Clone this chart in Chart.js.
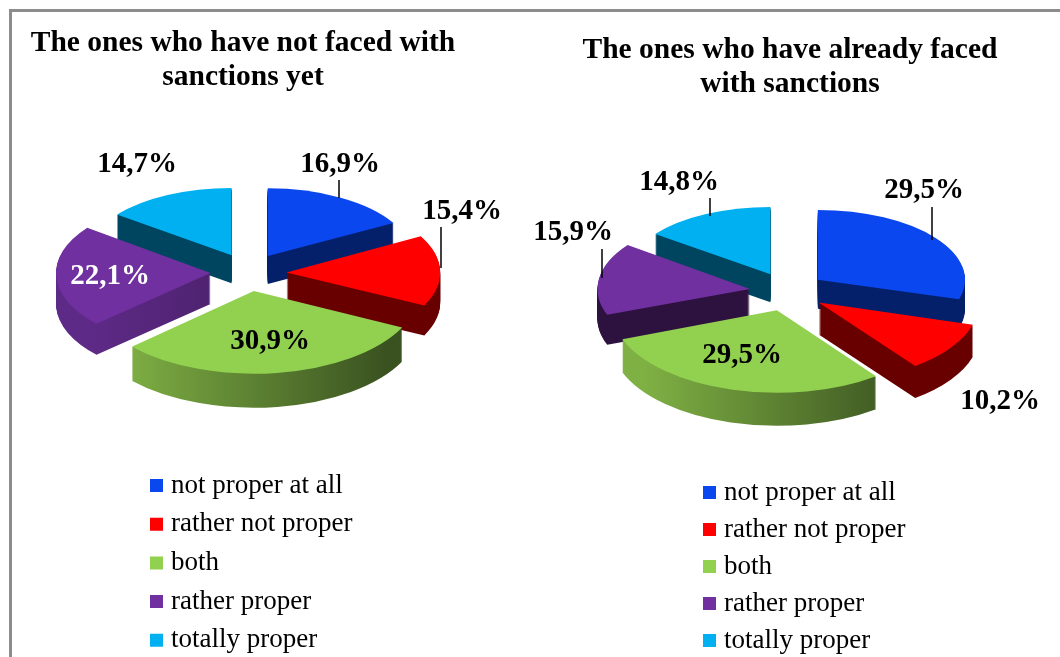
<!DOCTYPE html>
<html><head><meta charset="utf-8">
<script src="https://cdn.jsdelivr.net/npm/chart.js@4/dist/chart.umd.min.js"></script>
<style>
html,body{margin:0;padding:0;background:#fff;width:1060px;height:657px;overflow:hidden}
#frame{position:absolute;left:9px;top:9px;right:-10px;bottom:-10px;border:3px solid #8c8c8c}
canvas{position:absolute;top:0}
#wrapA,#wrapB{position:absolute;top:0;width:530px;height:657px}
#wrapA{left:0}#wrapB{left:530px}
</style></head><body>
<div id="frame"></div>
<div id="wrapA"><canvas id="a"></canvas></div>
<div id="wrapB"><canvas id="b"></canvas></div>
<script>
const categories = ["not proper at all","rather not proper","both","rather proper","totally proper"];
const valuesNotFaced = [16.9,15.4,30.9,22.1,14.7];
const valuesFaced = [29.5,10.2,29.5,15.9,14.8];
const titleNotFaced = ["The ones who have not faced with","sanctions yet"];
const titleFaced = ["The ones who have already faced","with sanctions"];
const topColors = ["#0B47EF","#FF0000","#92D050","#7030A0","#00B0F0"];

const SERIF = '"Liberation Serif","Times New Roman",serif';
const RADIUS = 154;
function wallStyle(ctx,i,arc,cfg){
  const g = ctx.createLinearGradient(arc.x-RADIUS,0,arc.x+RADIUS,0);
  const stops = [["#04206B","#04206B"],["#680000","#680000"],["#7FB044","#3A5220"],cfg.purple,["#004560","#004560"]][i];
  g.addColorStop(0.1,stops[0]); g.addColorStop(0.9,stops[1]);
  return g;
}
const pie3d = {
  id:'pie3d',
  afterLayout(chart,args,o){
    const l = chart.legend, pad = l.options.labels.padding;
    l.left = o.legendX - pad; l.right = l.left + l.width;
    l.top = o.legendY - pad; l.bottom = 900;
  },
  beforeDatasetsDraw(chart,args,o){
    const ctx = chart.ctx, arcs = chart.getDatasetMeta(0).data;
    const items = arcs.map((arc,i)=>{
      const mid = (arc.startAngle+arc.endAngle)/2 + Math.PI/2;  // clockwise from top
      return {arc,i,mid,c:Math.cos(mid),s:Math.sin(mid)};
    }).sort((p,q)=>q.c-p.c);
    for(const it of items){
      const {arc,i,c,s} = it, orig = arc.options, off = orig.offset;
      const ax = o.cx + s*off, ay = o.cy - c*off*0.5;
      const sx = 1-0.075*c, sy = 0.485*(1-0.11*c);
      const depth = 31*(1-0.1*c);
      const wall = wallStyle(ctx,i,arc,o);
      for(let d=depth;d>=0;d-=1){
        ctx.save();
        ctx.translate(ax,ay+d); ctx.scale(sx,sy); ctx.translate(-arc.x,-arc.y);
        const opt = Object.create(orig);
        opt.offset = 0; opt.borderWidth = 0;
        opt.backgroundColor = d>=1 ? wall : orig.backgroundColor;
        arc.options = opt;
        arc.draw(ctx);
        arc.options = orig;
        ctx.restore();
      }
    }
  },
  beforeDatasetDraw(){ return false; },
  afterDatasetsDraw(chart,args,o){
    const ctx = chart.ctx, vals = chart.data.datasets[0].data;
    ctx.save();
    ctx.strokeStyle='#000'; ctx.lineWidth=1.5;
    for(const [x,y0,y1] of o.leaders){ ctx.beginPath(); ctx.moveTo(x,y0); ctx.lineTo(x,y1); ctx.stroke(); }
    ctx.font='bold 29px '+SERIF; ctx.textAlign='center'; ctx.textBaseline='middle';
    vals.forEach((v,i)=>{
      ctx.fillStyle = o.labelColors[i];
      ctx.fillText(v.toFixed(1).replace('.',',')+'%', o.labels[i][0], o.labels[i][1]);
    });
    ctx.restore();
  }
};
function legendItems(chart){
  return Chart.overrides.doughnut.plugins.legend.labels.generateLabels(chart).map(it=>{
    it.strokeStyle = it.fillStyle; it.lineWidth = 11; return it;
  });
}
function makeChart(id,values,title,padRight,titleTop,legendPad,plug){
  return new Chart(document.getElementById(id),{
    type:'pie',
    data:{labels:categories,datasets:[{data:values,backgroundColor:topColors,borderWidth:0,offset:38,clip:false}]},
    plugins:[pie3d],
    options:{
      responsive:true,maintainAspectRatio:false,animation:false,radius:RADIUS,rotation:0,
      layout:{padding:{right:padRight}},
      events:[],
      plugins:{
        title:{display:true,text:title,color:'#000',font:{family:SERIF,size:29.5,weight:'bold',lineHeight:1.15},padding:{top:titleTop,bottom:0}},
        legend:{position:'left',align:'start',labels:{boxWidth:2,boxHeight:2,padding:legendPad,color:'#000',font:{family:SERIF,size:27},generateLabels:legendItems}},
        tooltip:{enabled:false},
        pie3d:plug
      }
    }
  });
}
const K='#000';
makeChart('a',valuesNotFaced,titleNotFaced,44,26,11.7,{
  cx:248.5,cy:272,legendX:155.5,legendY:472,
  purple:["#5E2A87","#3F1B5A"],
  labels:[[340,165],[462,212],[270,342],[110,277],[137,165]],
  labelColors:[K,K,K,'#fff',K],
  leaders:[[339,180,198],[441,227,268]]
});
makeChart('b',valuesFaced,titleFaced,10,33,10,{
  cx:257.5,cy:291,legendX:178.5,legendY:479,
  purple:["#2D123F","#2D123F"],
  labels:[[394,191],[470,402],[212,356],[43,233],[149,183]],
  labelColors:[K,K,K,K,K],
  leaders:[[402,207,240],[180,198,216],[72,249,278]]
});
</script>
</body></html>
